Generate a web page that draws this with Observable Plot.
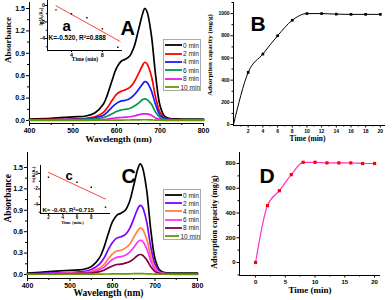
<!DOCTYPE html>
<html><head><meta charset="utf-8">
<script src="https://cdn.jsdelivr.net/npm/d3@7"></script>
<script src="https://cdn.jsdelivr.net/npm/@observablehq/plot@0.6"></script>
<style>
html,body{margin:0;padding:0;background:#fff;}
#fig{position:relative;width:392px;height:300px;overflow:hidden;background:#fff;}
#fig > svg, #fig > div{position:absolute;}
.leg{box-sizing:border-box;border:1px solid #aaa;background:#fff;font:6.5px "Liberation Sans",Arial,sans-serif;color:#222;padding:1px 0 0 1px;overflow:hidden;}
.leg .row{display:flex;align-items:center;white-space:nowrap;}
.leg svg{display:block;margin-right:1px;}
.vlab{font-family:"Liberation Serif","Times New Roman",serif;font-weight:bold;color:#000;white-space:nowrap;line-height:1;transform:translate(-50%,-50%) rotate(-90deg);}
</style></head><body><div id="fig"></div>
<script>
// ---------- data ----------
const wavelengths = [400,450,500,530,550,570,580,590,600,610,620,630,640,650,660,665,670,680,690,700,710,720,750,800];
const seriesLabels = ["0 min","2 min","4 min","6 min","8 min","10 min"];
const colorsA = ["#000000","#ff0000","#1a1aff","#00994d","#e619e6","#669900"];
const colorsC = ["#000000","#8000ff","#ff8040","#ff33ff","#800040","#669900"];
const absA_0  = [0.02,0.03,0.05,0.06,0.10,0.22,0.36,0.54,0.70,0.79,0.82,0.86,0.98,1.20,1.43,1.50,1.46,1.15,0.60,0.20,0.06,0.03,0.02,0.02];
const absA_2  = [0.01,0.015,0.02,0.03,0.05,0.11,0.18,0.27,0.35,0.39,0.41,0.44,0.51,0.62,0.74,0.78,0.76,0.60,0.31,0.11,0.04,0.02,0.01,0.01];
const absA_4  = [0.01,0.01,0.015,0.02,0.035,0.07,0.12,0.18,0.23,0.26,0.27,0.29,0.34,0.41,0.49,0.52,0.51,0.40,0.21,0.07,0.03,0.015,0.01,0.01];
const absA_6  = [0.01,0.01,0.01,0.015,0.02,0.04,0.06,0.09,0.12,0.14,0.15,0.16,0.19,0.23,0.28,0.29,0.28,0.22,0.11,0.04,0.015,0.01,0.01,0.01];
const absA_8  = [0.005,0.005,0.005,0.008,0.01,0.015,0.02,0.03,0.035,0.04,0.045,0.05,0.06,0.075,0.088,0.09,0.088,0.07,0.035,0.015,0.008,0.005,0.005,0.005];
const absA_10 = [0.003,0.003,0.003,0.003,0.004,0.004,0.005,0.005,0.006,0.006,0.007,0.007,0.008,0.009,0.010,0.010,0.010,0.008,0.006,0.004,0.003,0.003,0.003,0.003];
const absC_0  = [0.02,0.04,0.06,0.07,0.11,0.24,0.38,0.57,0.74,0.83,0.86,0.90,1.02,1.25,1.49,1.55,1.51,1.20,0.63,0.22,0.07,0.03,0.02,0.02];
const absC_2  = [0.01,0.02,0.03,0.04,0.07,0.15,0.23,0.35,0.45,0.51,0.53,0.56,0.64,0.78,0.93,0.97,0.95,0.75,0.39,0.14,0.05,0.02,0.01,0.01];
const absC_4  = [0.01,0.01,0.02,0.025,0.045,0.09,0.14,0.22,0.29,0.33,0.34,0.37,0.42,0.52,0.62,0.65,0.64,0.50,0.26,0.09,0.03,0.015,0.01,0.01];
const absC_6  = [0.01,0.01,0.015,0.02,0.035,0.07,0.10,0.16,0.21,0.24,0.25,0.27,0.31,0.38,0.46,0.48,0.47,0.37,0.19,0.07,0.025,0.01,0.01,0.01];
const absC_8  = [0.005,0.01,0.01,0.015,0.02,0.04,0.06,0.09,0.12,0.14,0.145,0.16,0.18,0.22,0.27,0.28,0.275,0.21,0.11,0.04,0.015,0.01,0.005,0.005];
const absC_10 = [0.003,0.004,0.005,0.005,0.006,0.006,0.007,0.007,0.008,0.008,0.009,0.009,0.010,0.011,0.012,0.012,0.012,0.010,0.008,0.006,0.004,0.004,0.003,0.003];
const wlTicks = [400,500,600,700,800];
const absTicks = [0,0.3,0.6,0.9,1.2,1.5];

const timeB = [0,2,4,6,8,10,12,14,16,18,20];
const capB  = [0,470,635,800,940,1000,1000,995,993,993,993];
const timeD = [0,2,4,6,8,10,12,14,16,18,20];
const capD  = [0,460,580,710,810,810,805,805,805,800,800];

const lnTimeA = [2,4,6,8,10];
const lnA     = [-0.53,-1.01,-1.49,-2.83,-5.05];
const kA = -0.520, r2A = 0.888, interceptA = 1.0, fitSpanA = [2,10.3];
const lnTimeC = [2,6,8,10];
const lnC     = [-0.48,-1.13,-1.77,-4.35];
const kC = -0.43, r2C = 0.715, interceptC = 1.0, fitSpanC = [2,10];

// ---------- helpers ----------
const sans = "'Liberation Sans', Arial, sans-serif";
const serif = "'Liberation Serif', 'Times New Roman', serif";
const fig = document.getElementById("fig");
function place(node, left, top){ node.style.left = left+"px"; node.style.top = top+"px"; fig.append(node); }
const baseStyle = {background:"transparent", overflow:"visible", color:"#000"};
function specRows(arrs){
  const rows = [];
  arrs.forEach((arr,si)=>arr.forEach((v,i)=>rows.push({wl:wavelengths[i], a:v, s:seriesLabels[si]})));
  return rows;
}
function bold(extra){ return Object.assign({fontWeight:"bold", fontFamily:sans}, extra); }
function axisLines(xd, yd){
  return [Plot.ruleX([xd[0]], {stroke:"#000", strokeWidth:1}), Plot.ruleY([yd[0]], {stroke:"#000", strokeWidth:1})];
}
function label(t, o){ return Plot.text([t], Object.assign({text:d=>d, fontWeight:"bold", fontFamily:serif, fill:"#000"}, o)); }
function range(a,b,s){ const r=[]; for(let v=a; v<=b+1e-9; v+=s) r.push(+v.toFixed(4)); return r; }
function vLabel(text, cx, cy, size){
  const d = document.createElement("div");
  d.className = "vlab"; d.textContent = text; d.style.fontSize = size+"px";
  place(d, cx, cy);
}

function spectrumPlot(arrs, colors, cfg){
  return Plot.plot({
    width:cfg.w, height:cfg.h, marginLeft:cfg.ml, marginRight:cfg.mr, marginTop:cfg.mt, marginBottom:cfg.mb,
    style:baseStyle,
    x:{domain:[wlTicks[0], wlTicks[wlTicks.length-1]]},
    y:{domain:cfg.yd},
    color:{domain:seriesLabels, range:colors},
    marks:[
      ...axisLines([wlTicks[0]], cfg.yd),
      Plot.axisX({ticks:wlTicks, tickSize:3, tickPadding:1.5, label:null, tickFormat:d=>String(d), ...bold({fontSize:cfg.fs})}),
      Plot.axisX({ticks:range(450,750,100), tickSize:2, label:null, tickFormat:()=>""}),
      Plot.axisY({ticks:absTicks, tickSize:3, tickPadding:1.5, label:null, tickFormat:d3.format(".1f"), ...bold({fontSize:cfg.fs})}),
      Plot.axisY({ticks:range(0.15,1.35,0.3), tickSize:2, label:null, tickFormat:()=>""}),
      Plot.line(specRows(arrs), {x:"wl", y:"a", z:"s", stroke:"s", strokeWidth:1.7, curve:"catmull-rom"}),
      label("Absorbance", {frameAnchor:"left", dx:cfg.ylx, dy:cfg.yly, rotate:-90, fontSize:cfg.tfs}),
      label("Wavelength (nm)", {frameAnchor:"bottom", dx:cfg.xlx, dy:cfg.xly, fontSize:cfg.tfs}),
      Plot.text([cfg.letter], {text:d=>d, frameAnchor:"top-left", dx:cfg.lx, dy:cfg.ly, fontSize:20, fontWeight:"bold", fontFamily:sans, fill:"#000"})
    ]
  });
}

function legend(colors, left, top, w, h, step){
  const d = document.createElement("div");
  d.className = "leg";
  d.style.width = w+"px"; d.style.height = h+"px";
  seriesLabels.forEach((s,i)=>{
    const r = document.createElement("div"); r.className="row"; r.style.height = step+"px";
    r.innerHTML = `<svg width="17" height="4"><line x1="0" y1="2" x2="17" y2="2" stroke="${colors[i]}" stroke-width="1.8"/></svg><span>${s}</span>`;
    d.append(r);
  });
  place(d, left, top);
}

function kineticsPlot(times, caps, cfg){
  const pts = times.map((t,i)=>({t, q:caps[i]}));
  return Plot.plot({
    width:cfg.w, height:cfg.h, marginLeft:cfg.ml, marginRight:cfg.mr, marginTop:cfg.mt, marginBottom:cfg.mb,
    style:baseStyle,
    x:{domain:cfg.xd}, y:{domain:cfg.yd},
    marks:[
      ...axisLines(cfg.xd, cfg.yd),
      Plot.axisX({ticks:cfg.xt, tickSize:2.5, tickPadding:1.5, label:null, tickFormat:d=>String(d), ...bold({fontSize:cfg.fs})}),
      Plot.axisX({ticks:cfg.xm, tickSize:1.5, label:null, tickFormat:()=>""}),
      Plot.axisY({ticks:cfg.yt, tickSize:2.5, tickPadding:1.5, label:null, tickFormat:d=>String(d), ...bold({fontSize:cfg.fs})}),
      Plot.axisY({ticks:cfg.ym, tickSize:1.5, label:null, tickFormat:()=>""}),
      Plot.line(pts, {x:"t", y:"q", stroke:cfg.lineColor, strokeWidth:cfg.lw, curve:"monotone-x"}),
      Plot.dot(pts.filter(cfg.dotFilter), {x:"t", y:"q", symbol:"square", r:cfg.r, fill:cfg.dotColor, stroke:"none"}),
      label("Time (min)", {frameAnchor:"bottom", dx:cfg.xlx, dy:cfg.xly, fontSize:cfg.tfs}),
      Plot.text([cfg.letter], {text:d=>d, frameAnchor:"top-left", dx:cfg.lx, dy:cfg.ly, fontSize:21, fontWeight:"bold", fontFamily:sans, fill:"#000"})
    ]
  });
}

function insetPlot(times, lns, k, b, span, r2, cfg){
  const pts = times.map((t,i)=>({t, v:lns[i]}));
  const fit = span.map(t=>({t, v:b + k*t}));
  return Plot.plot({
    width:cfg.w, height:cfg.h, marginLeft:cfg.ml, marginRight:cfg.mr, marginTop:cfg.mt, marginBottom:cfg.mb,
    style:baseStyle,
    x:{domain:cfg.xd}, y:{domain:cfg.yd},
    marks:[
      ...axisLines(cfg.xd, cfg.yd),
      Plot.axisX({ticks:cfg.xt, tickSize:2, tickPadding:0.5, label:null, tickFormat:d=>String(d), ...bold({fontSize:cfg.fs})}),
      Plot.axisX({ticks:cfg.xm, tickSize:1.2, label:null, tickFormat:()=>""}),
      Plot.axisY({ticks:[0,-2,-4], tickSize:2, tickPadding:0.5, label:null, tickFormat:d=>String(d), ...bold({fontSize:cfg.fs})}),
      Plot.axisY({ticks:[-1,-3,-5], tickSize:1.2, label:null, tickFormat:()=>""}),
      Plot.line(fit, {x:"t", y:"v", stroke:"#ff3030", strokeWidth:0.9}),
      Plot.dot(pts, {x:"t", y:"v", symbol:"square", r:0.8, fill:"#000", stroke:"none"}),
      Plot.text([cfg.letter], {text:d=>d, frameAnchor:"top-left", dx:cfg.lx, dy:cfg.ly, fontSize:cfg.lfs, fontWeight:"bold", fontFamily:sans, fill:"#000"}),
      Plot.text([cfg.kText(k, r2)], {text:d=>d, frameAnchor:"top-left", textAnchor:"start", dx:cfg.kx, dy:cfg.ky, fontSize:cfg.kfs, fontWeight:"bold", fontFamily:sans, fill:"#000"}),
      label(cfg.xlabel, {frameAnchor:"bottom", dx:cfg.xlx, dy:cfg.xly, fontSize:cfg.tfs}),
      label("ln(Aₜ/A₀)", {frameAnchor:"left", dx:cfg.ylx, dy:cfg.yly, rotate:-90, fontSize:cfg.yfs, fontFamily:sans})
    ]
  });
}

// ---------- panel A ----------
place(spectrumPlot([absA_0,absA_2,absA_4,absA_6,absA_8,absA_10], colorsA,
  {w:205,h:150,ml:29,mr:2,mt:2,mb:27,yd:[-0.04,1.58],fs:7,tfs:9,ylx:-21,yly:0,xlx:2,xly:18,letter:"A",lx:91,ly:18}), 0, 0);
legend(colorsA, 163, 39, 38, 52, 8.4);
place(insetPlot(lnTimeA, lnA, kA, interceptA, fitSpanA, r2A,
  {w:100,h:65,ml:17,mr:8,mt:0,mb:15,xd:[0.9,10.6],yd:[-5.45,0.6],xt:[4,8],xm:[2,6,10],fs:5.5,
   letter:"a",lx:15,ly:20,lfs:15,kText:(k,r)=>`K=${k.toFixed(3)}, R²=${r.toFixed(3)}`,kx:1,ky:35,kfs:6.5,
   xlabel:"Time (min)",xlx:0,xly:10.5,tfs:5.5,ylx:-6,yly:0,yfs:4.5}), 30, 0);

// ---------- panel B ----------
place(kineticsPlot(timeB, capB,
  {w:192,h:150,ml:33,mr:7,mt:2,mb:25,xd:[0,20.7],yd:[-9,1100],
   xt:range(2,20,2),xm:range(1,19,2),yt:range(0,1000,200),ym:range(100,1100,200),fs:5,
   lineColor:"#000",lw:1,dotColor:"#000",r:1.5,dotFilter:d=>d.t>0,
   tfs:7.5,xlx:-2,xly:15,letter:"B",lx:17,ly:14}), 200, 0);
vLabel("Adsorption capacity (mg/g)", 210, 55, 7);

// ---------- panel C ----------
place(spectrumPlot([absC_0,absC_2,absC_4,absC_6,absC_8,absC_10], colorsC,
  {w:200,h:150,ml:27,mr:3,mt:2,mb:22,yd:[-0.056,1.71],fs:7,tfs:9.5,ylx:-20,yly:7,xlx:-4,xly:17,letter:"C",lx:94,ly:16}), 0, 150);
legend(colorsC, 163, 189, 38, 51, 8.2);
place(insetPlot(lnTimeC, lnC, kC, interceptC, fitSpanC, r2C,
  {w:100,h:75,ml:15,mr:15,mt:15,mb:12,xd:[0.88,10.7],yd:[-5.16,1.03],xt:[2,4,6,8],xm:[],fs:4.5,
   letter:"c",lx:25,ly:5,lfs:13,kText:(k,r)=>`K= ${k.toFixed(2)}, R²=${r.toFixed(3)}`,kx:2,ky:42,kfs:6,
   xlabel:"Time (min.)",xlx:-3,xly:10,tfs:4.5,ylx:-7,yly:-7,yfs:4}), 25, 150);

// ---------- panel D ----------
place(kineticsPlot(timeD, capD,
  {w:192,h:150,ml:39,mr:12,mt:2,mb:25,xd:[-2.7,21],yd:[-105,889],
   xt:[0,5,10,15,20],xm:[2.5,7.5,12.5,17.5],yt:range(0,800,200),ym:range(-100,700,200),fs:6,
   lineColor:"#ff33cc",lw:1.2,dotColor:"#ff0000",r:1.8,dotFilter:()=>true,
   tfs:9,xlx:0,xly:17,letter:"D",lx:20,ly:16}), 200, 150);
vLabel("Adsorption capacity (mg/g)", 215, 222, 8);
</script></body></html>
